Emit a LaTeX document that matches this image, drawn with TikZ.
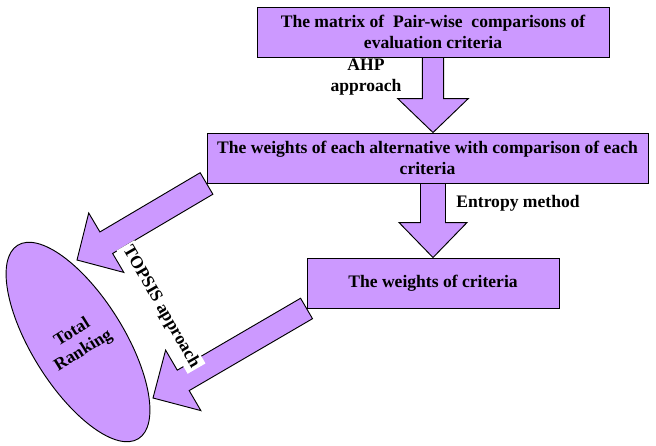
\documentclass[tikz,border=0pt]{standalone}
\usepackage{fontspec}
\setmainfont{Liberation Serif}
\usetikzlibrary{calc,shapes.geometric}
\definecolor{lilac}{RGB}{204,153,255}
\tikzset{
  box/.style={draw, fill=lilac, line width=0.8pt, minimum height=1.5cm, align=center, font=\fontsize{15}{18}\selectfont\bfseries},
  lbl/.style={align=center, font=\fontsize{15}{18}\selectfont\bfseries},
  fat/.style={draw, fill=lilac, line width=0.8pt, line join=miter}
}
% block arrow: from, to, half shaft, half head, head length
\newcommand{\fatarrow}[5]{%
  \coordinate (fa-c) at ($(#2)!#5!(#1)$);
  \filldraw[fat] ($(#1)!#3!90:(#2)$) -- ($(fa-c)!#3!90:(#2)$) -- ($(fa-c)!#4!90:(#2)$) -- (#2)
    -- ($(fa-c)!#4!-90:(#2)$) -- ($(fa-c)!#3!-90:(#2)$) -- ($(#1)!#3!-90:(#2)$) -- cycle;
}
\begin{document}
\begin{tikzpicture}[x=0.03cm, y=-0.03cm]
  \useasboundingbox (0,0) rectangle (656,445);
  \node[box, minimum width=10.56cm] (matrix) at (433,32) {The matrix of\ \ Pair-wise\ \ comparisons of\\evaluation criteria};
  \node[box, minimum width=13.23cm] (weights) at (427.5,158) {The weights of each alternative with comparison of each\\criteria};
  \node[box, minimum width=7.56cm] (crit) at (433,283) {The weights of criteria};
  \node[ellipse, draw, fill=lilac, line width=0.8pt, inner sep=0pt, minimum width=2.76cm, minimum height=6.84cm, rotate=32, lbl] (rank) at (78,342) {Total\\Ranking};
  % arrows
  \coordinate (ahpEnd) at (matrix.south |- weights.north);
  \coordinate (entStart) at (crit.north |- weights.south);
  \coordinate (tipA) at (77,260);
  \coordinate (tipB) at (153,398);
  \fatarrow{matrix.south}{ahpEnd}{0.32cm}{1.06cm}{1.02cm}
  \fatarrow{entStart}{crit.north}{0.375cm}{1.02cm}{1.05cm}
  \fatarrow{weights.south west}{tipA}{0.375cm}{1.035cm}{1.02cm}
  \fatarrow{crit.south west}{tipB}{0.355cm}{1.05cm}{1.05cm}
  % labels
  \node[lbl] (ahp) at (366,77) {AHP\\approach};
  \node[lbl] (entropy) at (518,203) {Entropy method};
  \node[lbl, fill=white, rotate=-60, inner sep=2pt] (topsis) at (161,307) {TOPSIS approach};
\end{tikzpicture}
\end{document}
